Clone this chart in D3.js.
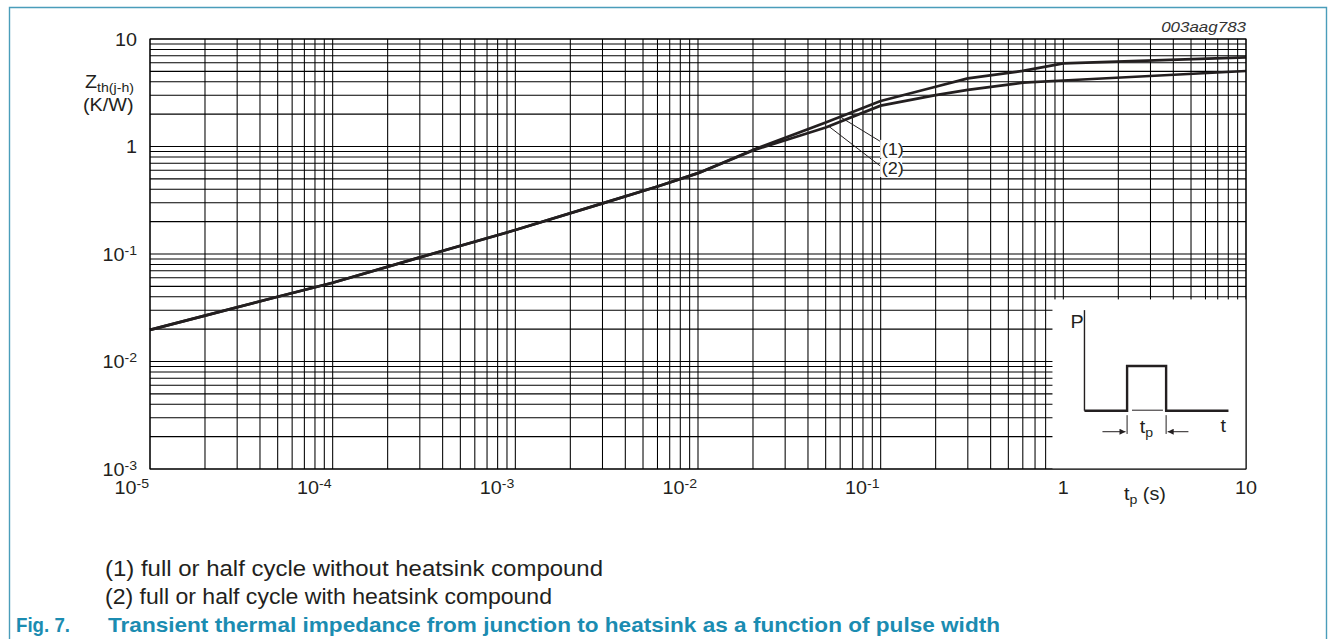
<!DOCTYPE html>
<html>
<head>
<meta charset="utf-8">
<script src="https://cdn.jsdelivr.net/npm/d3@7"></script>
<style>
  html, body { margin: 0; padding: 0; background: #fff; }
  svg { display: block; font-family: "Liberation Sans", Arial, sans-serif; }
</style>
</head>
<body>
<div id="chart"></div>
<script>
// pulse width (s) and Zth(j-h) (K/W)
const pulseWidth = [1e-5, 2e-5, 5e-5, 1e-4, 3e-4, 1e-3, 3e-3, 6e-3, 1e-2, 2e-2, 5e-2, 0.1, 0.2, 0.3, 0.6, 1, 10];
const zthNoCompound = [0.0197, 0.0267, 0.040, 0.054, 0.093, 0.167, 0.296, 0.425, 0.565, 0.93, 1.67, 2.65, 3.6, 4.3, 5.05, 5.94, 6.76];
const zthCompound   = [0.0197, 0.0267, 0.040, 0.054, 0.093, 0.167, 0.296, 0.425, 0.565, 0.92, 1.50, 2.40, 3.01, 3.36, 3.92, 4.11, 5.04];

const xTickExp = [-5, -4, -3, -2, -1, 0, 1];
const yTickExp = [-3, -2, -1, 0, 1];

// curve tags: where the leader touches the curve, where it ends, where the label sits
const tags = [
  { name: '(1)', series: 0, at: 0.06,  endX: 0.1, endY: 1.11, labelY: 0.95 },
  { name: '(2)', series: 1, at: 0.052, endX: 0.1, endY: 0.655, labelY: 0.63 }
];

const legendLines = [
  '(1) full or half cycle without heatsink compound',
  '(2) full or half cycle with heatsink compound'
];

// inset: power pulse sketch (t units 0..10, P units 0..1)
const pulseShape = [[0, 0], [2.96, 0], [2.96, 1], [5.67, 1], [5.67, 0], [10, 0]];

const W = 1328, H = 639;
const INK = '#231f20';
const TEAL = '#1b8cb1';
const SX = 1.13; // the figure's text is a bit wider than Liberation Sans

const svg = d3.select('#chart').append('svg')
  .attr('width', W)
  .attr('height', H);

// blue frame
svg.append('path')
  .attr('d', `M9.5,${H} V7.5 H1326.5 V${H}`)
  .attr('fill', 'none')
  .attr('stroke', '#4a9dba')
  .attr('stroke-width', 1.4);

const x = d3.scaleLog().domain([1e-5, 10]).range([150, 1246]);
const y = d3.scaleLog().domain([1e-3, 10]).range([469, 39]);

// grid (all 1..9 multiples)
const grid = svg.append('g').attr('stroke', '#000').attr('stroke-width', 1.05);
grid.selectAll('line.v')
  .data(x.ticks())
  .enter()
  .append('line')
  .attr('class', 'v')
  .attr('x1', d => x(d)).attr('x2', d => x(d))
  .attr('y1', y.range()[0]).attr('y2', y.range()[1]);
grid.selectAll('line.h')
  .data(y.ticks())
  .enter()
  .append('line')
  .attr('class', 'h')
  .attr('y1', d => y(d)).attr('y2', d => y(d))
  .attr('x1', x.range()[0]).attr('x2', x.range()[1]);

// curves
const series = [zthNoCompound, zthCompound];
const line = d3.line()
  .x(d => x(d[0]))
  .y(d => y(d[1]));

svg.append('g').selectAll('path')
  .data(series)
  .enter()
  .append('path')
  .attr('d', s => line(pulseWidth.map((t, i) => [t, s[i]])))
  .attr('fill', 'none')
  .attr('stroke', INK)
  .attr('stroke-width', 2.7)
  .attr('stroke-linejoin', 'round');

// value of a series at t, interpolated in log-log
const valueAt = (s, t) => {
  const lt = Math.log10(t);
  for (let i = 1; i < pulseWidth.length; i++) {
    const a = Math.log10(pulseWidth[i - 1]), b = Math.log10(pulseWidth[i]);
    if (lt <= b) {
      const f = (lt - a) / (b - a);
      return Math.pow(10, Math.log10(s[i - 1]) + f * (Math.log10(s[i]) - Math.log10(s[i - 1])));
    }
  }
  return s[s.length - 1];
};

// leaders + tags
const tagG = svg.append('g');
tags.forEach(tg => {
  tagG.append('line')
    .attr('x1', x(tg.at)).attr('y1', y(valueAt(series[tg.series], tg.at)))
    .attr('x2', x(tg.endX)).attr('y2', y(tg.endY))
    .attr('stroke', INK).attr('stroke-width', 1);
  tagG.append('rect')
    .attr('x', x(tg.endX) - 0.5).attr('y', y(tg.labelY) - 9)
    .attr('width', 22).attr('height', 18)
    .attr('fill', '#fff');
  tagG.append('text')
    .attr('transform', `translate(${x(tg.endX) + 1},${y(tg.labelY) + 6}) scale(${SX},1)`)
    .attr('font-size', 16)
    .attr('fill', INK)
    .text(tg.name);
});

// helper: 10^n labels
const powLabel = (g, e, px, py, anchor) => {
  const t = g.append('text')
    .attr('transform', `translate(${px},${py}) scale(${SX},1)`)
    .attr('text-anchor', anchor)
    .attr('font-size', 17.5)
    .attr('fill', INK);
  if (e === 0) { t.text('1'); return; }
  if (e === 1) { t.text('10'); return; }
  t.append('tspan').text('10');
  t.append('tspan').attr('font-size', 12.5).attr('dy', -6).text(String(e));
};

const xLabels = svg.append('g');
xTickExp.forEach(e => {
  const v = Math.pow(10, e);
  if (e < 0) powLabel(xLabels, e, x(v) - 1, 494, 'end');
  else powLabel(xLabels, e, x(v), 494, 'middle');
});

const yLabels = svg.append('g');
yTickExp.forEach(e => {
  powLabel(yLabels, e, 137, y(Math.pow(10, e)) + 6.5, 'end');
});

// inset white box over the grid
const box = { t0: 0.872, t1: 10, z0: 1e-3, z1: 0.0378 };
svg.append('rect')
  .attr('x', x(box.t0)).attr('y', y(box.z1))
  .attr('width', x(box.t1) - x(box.t0))
  .attr('height', y(box.z0) - y(box.z1))
  .attr('fill', '#fff');

// plot frame
svg.append('rect')
  .attr('x', x.range()[0]).attr('y', y.range()[1])
  .attr('width', x.range()[1] - x.range()[0])
  .attr('height', y.range()[0] - y.range()[1])
  .attr('fill', 'none')
  .attr('stroke', '#000')
  .attr('stroke-width', 1.05);

// inset drawing
const bx = x(box.t0), by = y(box.z0);
const ix = d3.scaleLinear().domain([0, 10]).range([bx + 32, bx + 176]);
const iy = d3.scaleLinear().domain([0, 1]).range([by - 58.3, by - 103]);
const inset = svg.append('g');

const defs = svg.append('defs');
defs.append('marker')
  .attr('id', 'arr')
  .attr('viewBox', '0 0 10 10')
  .attr('refX', 10).attr('refY', 5)
  .attr('markerWidth', 9).attr('markerHeight', 6)
  .attr('markerUnits', 'userSpaceOnUse')
  .attr('orient', 'auto')
  .append('path')
  .attr('d', 'M0,0 L10,5 L0,10 Z')
  .attr('fill', INK);

inset.append('line')
  .attr('x1', ix(0)).attr('x2', ix(0))
  .attr('y1', iy(0)).attr('y2', iy(2.25))
  .attr('stroke', INK).attr('stroke-width', 1.4);

inset.append('path')
  .attr('d', d3.line().x(d => ix(d[0])).y(d => iy(d[1]))(pulseShape))
  .attr('fill', 'none')
  .attr('stroke', INK)
  .attr('stroke-width', 2.4)
  .attr('stroke-linejoin', 'miter');

// thin gap line under pulse
inset.append('rect')
  .attr('x', ix(3.1)).attr('y', iy(0) - 2)
  .attr('width', ix(5.55) - ix(3.1)).attr('height', 3.5)
  .attr('fill', '#fff');
inset.append('line')
  .attr('x1', ix(3.3)).attr('x2', ix(5.45))
  .attr('y1', iy(0) - 0.5).attr('y2', iy(0) - 0.5)
  .attr('stroke', INK).attr('stroke-width', 1);

// dimension ticks and arrows
[2.96, 5.67].forEach(t => {
  inset.append('line')
    .attr('x1', ix(t)).attr('x2', ix(t))
    .attr('y1', iy(-0.1)).attr('y2', iy(-0.52))
    .attr('stroke', INK).attr('stroke-width', 1);
});
[[1.25, 2.85], [7.22, 5.78]].forEach(([a, b]) => {
  inset.append('line')
    .attr('x1', ix(a)).attr('x2', ix(b))
    .attr('y1', iy(-0.47)).attr('y2', iy(-0.47))
    .attr('stroke', INK).attr('stroke-width', 1)
    .attr('marker-end', 'url(#arr)');
});

inset.append('text')
  .attr('transform', `translate(${ix(-0.97)},${iy(1.85)}) scale(${SX},1)`)
  .attr('font-size', 17.5).attr('fill', INK).text('P');
const tp = inset.append('text')
  .attr('transform', `translate(${ix(3.84)},${iy(-0.5)}) scale(${SX},1)`)
  .attr('font-size', 17.5).attr('fill', INK);
tp.append('tspan').text('t');
tp.append('tspan').attr('font-size', 12.5).attr('dy', 4).text('p');
inset.append('text')
  .attr('transform', `translate(${ix(9.44)},${iy(-0.47)}) scale(${SX},1)`)
  .attr('font-size', 17.5).attr('fill', INK).text('t');

// axis titles
const zt = svg.append('text')
  .attr('transform', `translate(85,88) scale(${SX},1)`)
  .attr('font-size', 17.5).attr('fill', INK);
zt.append('tspan').text('Z');
zt.append('tspan').attr('font-size', 12.5).attr('dy', 4).text('th(j-h)');
svg.append('text')
  .attr('transform', `translate(83,111) scale(${SX},1)`)
  .attr('font-size', 17.5).attr('fill', INK).text('(K/W)');

const xt = svg.append('text')
  .attr('transform', `translate(1124,500) scale(${SX},1)`)
  .attr('font-size', 17.5).attr('fill', INK);
xt.append('tspan').text('t');
xt.append('tspan').attr('font-size', 12.5).attr('dy', 4).text('p');
xt.append('tspan').attr('dy', -4).text(' (s)');

// drawing code
svg.append('text')
  .attr('transform', `translate(1246,32) scale(${SX},1)`)
  .attr('text-anchor', 'end')
  .attr('font-size', 15)
  .attr('font-style', 'italic')
  .attr('fill', '#333')
  .text('003aag783');

// legend
const legendLen = [498, 447];
svg.append('g').selectAll('text')
  .data(legendLines)
  .enter()
  .append('text')
  .attr('x', 105)
  .attr('y', (d, i) => 576 + i * 28.3)
  .attr('font-size', 22)
  .attr('fill', INK)
  .attr('textLength', (d, i) => legendLen[i])
  .attr('lengthAdjust', 'spacingAndGlyphs')
  .text(d => d);

// caption
svg.append('text')
  .attr('x', 16).attr('y', 632)
  .attr('font-size', 21).attr('font-weight', 'bold').attr('fill', TEAL)
  .attr('textLength', 54).attr('lengthAdjust', 'spacingAndGlyphs')
  .text('Fig. 7.');
svg.append('text')
  .attr('x', 108).attr('y', 632)
  .attr('font-size', 21).attr('font-weight', 'bold').attr('fill', TEAL)
  .attr('textLength', 892).attr('lengthAdjust', 'spacingAndGlyphs')
  .text('Transient thermal impedance from junction to heatsink as a function of pulse width');
</script>
</body>
</html>
